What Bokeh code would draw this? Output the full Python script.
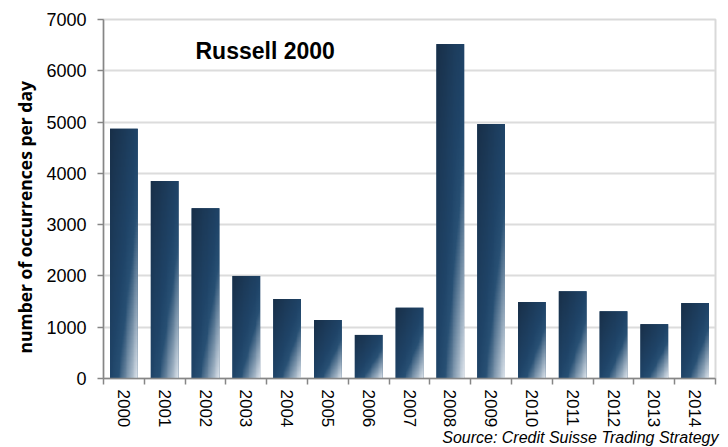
import numpy as np
from bokeh.plotting import figure
from bokeh.models import FixedTicker, Range1d, Label, ColumnDataSource, Title
from bokeh.embed import file_html
from bokeh.resources import INLINE

years = ["2000", "2001", "2002", "2003", "2004", "2005", "2006", "2007",
         "2008", "2009", "2010", "2011", "2012", "2013", "2014"]
occurrences = [4870, 3850, 3320, 2000, 1550, 1140, 850, 1380,
               6520, 4960, 1490, 1700, 1310, 1060, 1470]
y_ticks = [0, 1000, 2000, 3000, 4000, 5000, 6000, 7000]
title_text = "Russell 2000"
y_title = "number of occurrences per day"
source_text = "Source: Credit Suisse Trading Strategy"

n = len(years)
xs = list(range(n))
bar_w = 0.68

p = figure(width=728, height=447, output_backend="svg", toolbar_location=None,
           x_range=Range1d(-0.5, n - 0.5), y_range=Range1d(0, 7000),
           min_border_left=103, min_border_right=13, min_border_top=19,
           min_border_bottom=69)
p.outline_line_color = "#d9d9d9"
p.outline_line_width = 2
p.background_fill_color = "white"
p.border_fill_color = "white"

# base bars
src = ColumnDataSource(dict(x=xs, top=occurrences))
p.vbar(x="x", top="top", width=bar_w, bottom=0, source=src,
       fill_color="#1f4468", line_color=None)

# diagonal gradient overlay (top-left dark -> bottom-right light)
stop_t = np.array([0.0, 0.5, 0.64, 1.0])
stop_c = np.array([(24, 47, 72), (31, 68, 104), (40, 80, 116), (232, 237, 243)], dtype=float)

GW, GH = 32, 96
u = (np.arange(GW) + 0.5) / GW
vtop = 1 - (np.arange(GH) + 0.5) / GH  # row 0 is bottom
t = (u[None, :] + vtop[:, None]) / 2
rgba = np.zeros((GH, GW, 4), dtype=np.uint8)
for k in range(3):
    rgba[..., k] = np.round(np.interp(t, stop_t, stop_c[:, k])).astype(np.uint8)
rgba[..., 3] = 255
grad_img = rgba.view(dtype=np.uint32).reshape((GH, GW))

p.image_rgba(image=[grad_img] * n, x=[x - bar_w / 2 for x in xs], y=[0] * n,
             dw=[bar_w] * n, dh=occurrences)

# axes
p.xgrid.visible = False
p.ygrid.grid_line_color = "#dcdcdc"
p.ygrid.grid_line_width = 2
p.ygrid.level = "underlay"

p.xaxis.ticker = FixedTicker(ticks=xs, minor_ticks=[i - 0.5 for i in range(n + 1)])
p.xaxis.major_label_overrides = {i: y for i, y in enumerate(years)}
p.xaxis.major_tick_line_color = None
p.xaxis.minor_tick_line_color = "#868686"
p.xaxis.minor_tick_line_width = 1.5
p.xaxis.minor_tick_out = 6
p.xaxis.minor_tick_in = 0
p.xaxis.major_label_orientation = "vertical"
p.xaxis.major_label_standoff = 5
p.xaxis.major_label_text_font = "Liberation Sans"
p.xaxis.major_label_text_font_size = "17px"
p.xaxis.major_label_text_color = "#000000"
p.xaxis.axis_line_color = "#868686"
p.xaxis.axis_line_width = 1.5

p.yaxis.ticker = FixedTicker(ticks=y_ticks)
p.yaxis.minor_tick_line_color = None
p.yaxis.major_tick_line_color = "#868686"
p.yaxis.major_tick_line_width = 1.5
p.yaxis.major_tick_out = 6
p.yaxis.major_tick_in = 0
p.yaxis.major_label_standoff = 11
p.yaxis.major_label_text_font = "Liberation Sans"
p.yaxis.major_label_text_font_size = "18px"
p.yaxis.major_label_text_color = "#000000"
p.yaxis.axis_line_color = "#868686"
p.yaxis.axis_line_width = 1.5

p.add_layout(Title(text=y_title, align="left", text_font="Open Sans",
                   text_font_style="bold", text_font_size="17.5px",
                   text_color="#000000", standoff=13, offset=25), "left")

p.add_layout(Label(x=1.755, y=6380, text=title_text, text_font="Liberation Sans",
                   text_font_style="bold", text_font_size="23px",
                   text_color="#000000", text_baseline="alphabetic"))
p.add_layout(Title(text=source_text, align="right", text_font="Liberation Sans",
                   text_font_style="italic", text_font_size="16px",
                   text_color="#000000", standoff=-4, offset=-3,
                   vertical_align="top"), "below")

open("out.html", "w").write(file_html(p, INLINE))
